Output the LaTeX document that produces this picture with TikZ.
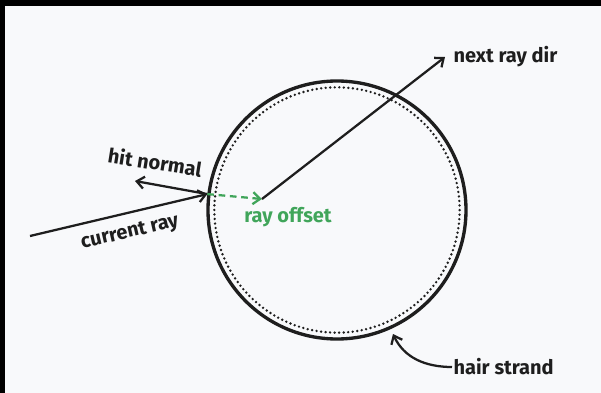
\documentclass[tikz,border=0pt]{standalone}
\usepackage{fontspec}
\setmainfont{Fira Sans}
\usetikzlibrary{arrows.meta,calc}
\definecolor{paper}{RGB}{248,249,251}
\definecolor{inkgreen}{RGB}{64,165,90}
\definecolor{ink}{RGB}{30,30,30}
\begin{document}
\begin{tikzpicture}[x=0.75pt, y=-0.75pt,
        lbl/.style={font=\bfseries\fontsize{15}{17}\selectfont, text=ink, inner sep=1pt},
        arr/.style={-{Straight Barb[length=5.5pt,width=9pt,line width=1.7pt]}, line width=1.7pt, draw=ink},
        offarr/.style={arr, draw=inkgreen, dash pattern=on 5pt off 3.5pt}
    ]
    % frame
    \fill[black] (0,0) rectangle (601,393);
    \fill[paper] (5,6) rectangle (601,393);
    \useasboundingbox (0,0) rectangle (601,393);

    % the strand
    \node[circle, draw=ink, line width=2.5pt, minimum size=193.5pt, inner sep=0pt] (strand) at (337,210) {};
    \draw[ink, line width=2pt, dash pattern=on 0pt off 3.4pt, line cap=round] (strand.center) circle[radius=92pt];

    % points
    \coordinate (hit) at (strand.173);
    \coordinate (start) at (30,236);
    \coordinate (nrm) at (135,181);
    \coordinate (offs) at (262,199);
    \coordinate (nxt) at (445,57);

    % labels
    \node[lbl, rotate=-9] (hitlbl) at (155,162) {hit normal};
    \node[lbl, rotate=13] (curlbl) at (130,233) {current ray};
    \node[lbl, text=inkgreen] (offlbl) at (288,217) {ray offset};
    \node[lbl, anchor=west] (nxtlbl) at (452,57) {next ray dir};
    \node[lbl, anchor=west] (hairlbl) at (452,367) {hair strand};

    % rays
    \draw[arr] (start) -- (hit);
    \draw[arr] (hit) -- (nrm);
    \draw[offarr] (hit) -- (offs);
    \draw[arr] (offs) -- (nxt);
    \draw[arr] (hairlbl.west) to[out=180, in=-65] (393,334);
\end{tikzpicture}
\end{document}
